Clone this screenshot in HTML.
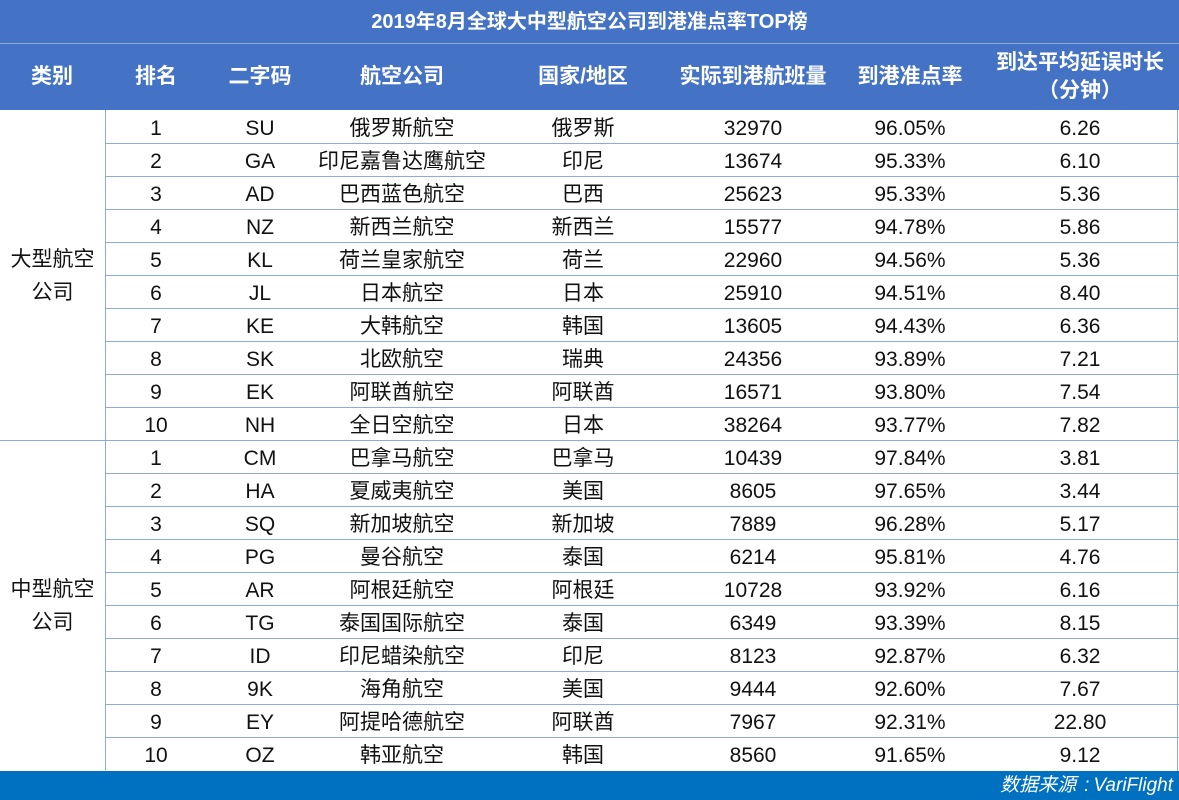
<!DOCTYPE html>
<html><head><meta charset="utf-8"><style>
body{margin:0;width:1179px;height:800px;overflow:hidden;background:#fff;font-family:"Liberation Sans","Noto Sans CJK SC",sans-serif;position:relative}
.abs{position:absolute}
#title{left:0;top:0;width:1179px;height:44px;background:#4472C4;color:#fff;font-weight:bold;font-size:20px;text-align:center;line-height:44px;border-bottom:1px solid #8eaadb;box-sizing:border-box}
#hdr{left:0;top:44px;width:1179px;height:66px;background:#4472C4}
.h{position:absolute;top:44px;height:66px;display:flex;align-items:center;justify-content:center;color:#fff;font-weight:bold;font-size:21px;text-align:center;line-height:28px;transform:translateX(-50%);white-space:nowrap}
.c{position:absolute;height:33px;line-height:33px;font-size:21px;color:#111;transform:translateX(-50%);white-space:nowrap}
.rl{position:absolute;left:105px;width:1074px;height:1px;background:#8eaadb}
#vl{left:105px;top:110px;width:1px;height:660px;background:#8eaadb}
#gl{left:0;top:440px;width:1179px;height:1px;background:#8eaadb}
.grp{position:absolute;left:0;width:105px;text-align:center;font-size:21px;line-height:33px;color:#111}
#foot{left:0;top:771px;width:1179px;height:29px;background:#0070C0;color:#fff;font-style:italic;font-size:19px;text-align:right;line-height:29px;padding-right:6px;box-sizing:border-box}
#rb{left:1177px;top:110px;width:1px;height:661px;background:#8eaadb}
</style></head><body>
<div id="title" class="abs">2019年8月全球大中型航空公司到港准点率TOP榜</div>
<div id="hdr" class="abs"></div>
<div class="h" style="left:52px">类别</div>
<div class="h" style="left:156px">排名</div>
<div class="h" style="left:260px">二字码</div>
<div class="h" style="left:402px">航空公司</div>
<div class="h" style="left:583px">国家/地区</div>
<div class="h" style="left:753px">实际到港航班量</div>
<div class="h" style="left:910px">到港准点率</div>
<div class="h" style="left:1080px">到达平均延误时长<br>（分钟）</div>
<div id="vl" class="abs"></div>
<div id="rb" class="abs"></div>
<div id="gl" class="abs"></div>
<div class="grp" style="top:243px">大型航空<br>公司</div>
<div class="grp" style="top:573px">中型航空<br>公司</div>
<div id="rows"></div>
<div id="foot" class="abs">数据来源<span style="margin:0 4px 0 8px">:</span>VariFlight</div>
<script>
const ranks=[1,2,3,4,5,6,7,8,9,10,1,2,3,4,5,6,7,8,9,10];
const codes=["SU","GA","AD","NZ","KL","JL","KE","SK","EK","NH","CM","HA","SQ","PG","AR","TG","ID","9K","EY","OZ"];
const airlines=["俄罗斯航空","印尼嘉鲁达鹰航空","巴西蓝色航空","新西兰航空","荷兰皇家航空","日本航空","大韩航空","北欧航空","阿联酋航空","全日空航空","巴拿马航空","夏威夷航空","新加坡航空","曼谷航空","阿根廷航空","泰国国际航空","印尼蜡染航空","海角航空","阿提哈德航空","韩亚航空"];
const countries=["俄罗斯","印尼","巴西","新西兰","荷兰","日本","韩国","瑞典","阿联酋","日本","巴拿马","美国","新加坡","泰国","阿根廷","泰国","印尼","美国","阿联酋","韩国"];
const flights=[32970,13674,25623,15577,22960,25910,13605,24356,16571,38264,10439,8605,7889,6214,10728,6349,8123,9444,7967,8560];
const ontime=["96.05%","95.33%","95.33%","94.78%","94.56%","94.51%","94.43%","93.89%","93.80%","93.77%","97.84%","97.65%","96.28%","95.81%","93.92%","93.39%","92.87%","92.60%","92.31%","91.65%"];
const delays=["6.26","6.10","5.36","5.86","5.36","8.40","6.36","7.21","7.54","7.82","3.81","3.44","5.17","4.76","6.16","8.15","6.32","7.67","22.80","9.12"];
const cols=[[156,ranks,'rank'],[260,codes,'code'],[402,airlines,'airline'],[583,countries,'country'],[753,flights,'flights'],[910,ontime,'ontime'],[1080,delays,'delay']];
const R=document.getElementById('rows');
for(let i=0;i<ranks.length;i++){
  const top=110+i*33;
  cols.forEach(([x,arr,n])=>{
    const d=document.createElement('div');d.className='c';
    d.style.left=x+'px';d.style.top=(top+2)+'px';d.textContent=arr[i];
    
    
    R.appendChild(d);
  });
  if(i!==9&&i<19){
    const l=document.createElement('div');l.className='rl';l.style.top=(top+33)+'px';
    
    
    R.appendChild(l);
  }
}
</script>
</body></html>
